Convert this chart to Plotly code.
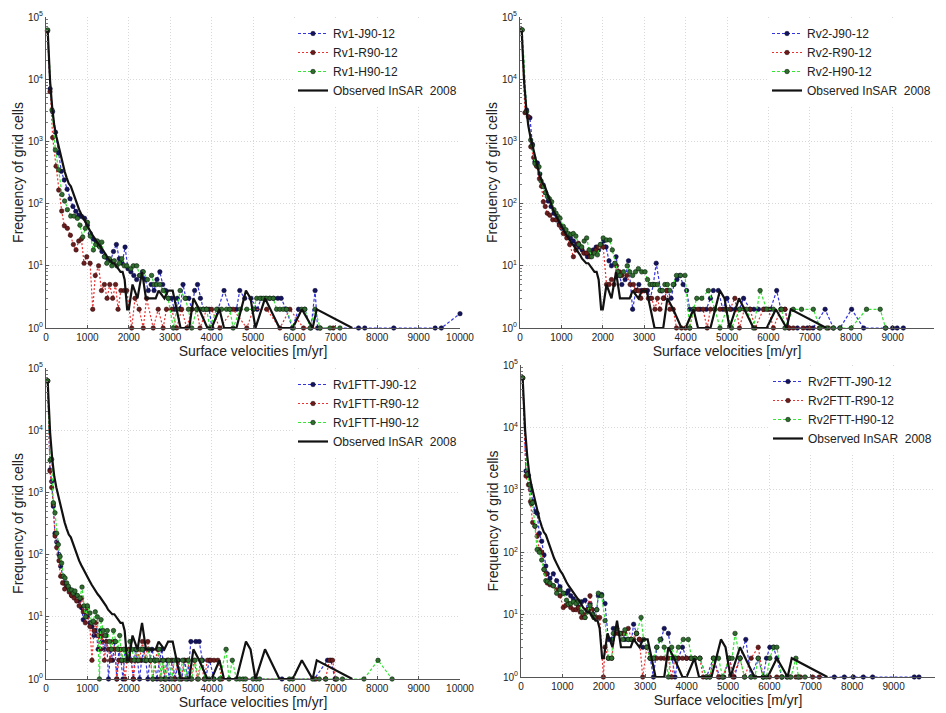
import plotly.graph_objects as go

# ---------------- data (velocity bin [m/yr], frequency of grid cells) ----------------
X_TICKS = [0, 1000, 2000, 3000, 4000, 5000, 6000, 7000, 8000, 9000, 10000]
X_TICK_TEXT = ["0", "1000", "2000", "3000", "4000", "5000", "6000", "7000", "8000", "9000", "10000"]
Y_TICKS = [1, 10, 100, 1000, 10000, 100000]
Y_TICK_TEXT = ["10<sup>0</sup>", "10<sup>1</sup>", "10<sup>2</sup>", "10<sup>3</sup>", "10<sup>4</sup>", "10<sup>5</sup>"]
Y_MINOR = [m * d for d in [1, 10, 100, 1000, 10000] for m in range(2, 10)]

OBS_NAME = "Observed InSAR\u00a0 2008"
obs_v = [40, 100, 150, 200, 250, 300, 350, 400, 450, 500, 550, 600, 650, 700, 750, 800, 850, 900, 950, 1000,
         1050, 1100, 1150, 1200, 1250, 1300, 1350, 1400, 1450, 1500, 1550, 1600, 1650, 1700, 1750, 1800, 1850,
         1900, 1960, 2000, 2090, 2210, 2320, 2415, 2500, 2650, 2720, 2860, 2950, 3060, 3250, 3460, 3560, 3700,
         3900, 4000, 4190, 4300, 4600, 4830, 4940, 5060, 5290, 5640, 5960, 6180, 6440, 6540, 7400]
obs_f = [62000, 9000, 3500, 1800, 1200, 850, 600, 450, 330, 260, 210, 190, 150, 120, 95, 80, 68, 58, 50, 45,
         38, 33, 29, 26, 23, 21, 19, 17, 15, 13, 12, 11, 11, 10, 9, 8, 8,
         6, 2, 2, 5, 3, 8, 3, 3, 3, 4, 3, 4, 4, 1, 1, 3, 2,
         1, 1, 2, 1, 1, 4, 3, 1, 3, 1, 1, 2, 1, 2, 1]

# Panel 1: Rv1
rv1_names = ["Rv1-J90-12", "Rv1-R90-12", "Rv1-H90-12"]
rv1_j = [(40,60000),(100,7000),(160,3000),(230,1400),(300,650),(370,330),(440,240),(510,170),(580,120),(650,90),
         (720,75),(790,65),(860,62),(930,58),(1000,45),(1070,33),(1140,27),(1210,25),(1280,21),(1350,17),(1420,14),
         (1490,13),(1560,12),(1630,17),(1700,22),(1770,13),(1840,11),(1910,20),(1980,9),(2050,8),(2120,7),(2190,6),
         (2260,7),(2330,8),(2400,6),(2470,4),(2540,5),(2610,4),(2680,6),(2750,8),(2820,5),(2890,4),(2960,3),(3030,3),
         (3100,2),(3170,3),(3240,2),(3310,5),(3380,3),(3450,3),(3520,2),(3590,4),(3660,5),(3730,3),(3800,2),(3870,2),
         (3940,2),(4010,1),(4150,2),(4300,4),(4450,2),(4600,2),(4680,4),(4800,3),(4950,3),(5100,2),(5200,3),(5300,3),
         (5400,3),(5500,3),(5600,3),(5680,3),(5800,2),(5950,1),(6100,2),(6250,2),(6400,1),(6500,4),(6560,1),(7550,1),
         (7700,1),(8400,1),(9400,1),(9550,1),(10000,1.7)]
rv1_r = [(32,60000),(97,6300),(161,1150),(242,400),(306,165),(379,76),(443,44),(516,40),(589,31),(661,22),(726,18),
         (790,25),(855,27),(919,11),(984,14),(1065,11),(1129,2),(1190,7),(1270,10),(1340,4),(1410,5),(1475,3),(1540,5),
         (1610,3),(1680,5),(1740,2),(1810,4),(1890,4),(1950,4),(2070,1),(2150,3),(2250,2),(2350,1),(2430,3),(2590,1),
         (2710,2),(2830,1),(2910,2),(3035,2),(3156,1),(3277,2),(3400,1),(3520,2),(3640,2),(3720,1),(3880,2),(4000,2),
         (4200,1),(4520,2),(4850,1),(5010,2),(5330,2),(5650,1),(5890,2),(6220,1),(6620,1),(6940,1)]
rv1_h = [(40,62000),(145,3200),(226,730),(306,350),(387,140),(450,110),(516,80),(597,63),(677,63),(758,58),(820,45),
         (887,29),(950,40),(1000,50),(1070,30),(1145,18),(1200,22),(1242,25),(1300,20),(1347,24),(1410,14),(1468,11),
         (1530,13),(1590,10),(1650,12),(1710,10),(1770,11),(1830,13),(1890,10),(1950,10),(2050,9),(2110,10),(2190,10),
         (2270,7),(2350,8),(2450,6),(2550,7),(2610,5),(2670,5),(2750,5),(2830,4),(2950,3),(3075,1),(3160,2),(3240,4),
         (3360,3),(3440,2),(3520,1),(3640,2),(3720,2),(3800,2),(3880,2),(3960,1),(4120,2),(4240,2),(4360,2),(4440,2),
         (4520,1),(4690,2),(4850,2),(5010,2),(5090,3),(5170,3),(5250,3),(5330,3),(5410,3),(5490,3),(5570,2),(5650,2),
         (5730,2),(5810,2),(5975,1),(6175,2),(6250,2),(6380,1),(6500,2),(6620,1),(6860,1),(7100,1)]

# Panel 2: Rv2
rv2_names = ["Rv2-J90-12", "Rv2-R90-12", "Rv2-H90-12"]
rv2_j = [(40,62000),(160,3200),(240,2400),(300,900),(360,470),(420,450),(480,300),(560,200),(620,150),(680,110),
         (750,90),(820,70),(880,55),(950,48),(1010,40),(1080,34),(1150,30),(1220,28),(1290,25),(1360,22),(1430,20),
         (1500,18),(1560,16),(1630,14),(1700,15),(1770,18),(1840,20),(1900,18),(1960,22),(2020,25),(2080,20),(2150,12),
         (2210,10),(2320,14),(2400,7),(2460,5),(2540,6),(2620,12),(2720,2),(2800,4),(2870,5),(2940,4),(3010,4),(3080,4),
         (3150,3),(3220,5),(3290,11),(3400,4),(3480,3),(3560,4),(3650,3),(3720,5),(3790,6),(3860,7),(3940,5),(4025,4),
         (4100,2),(4220,2),(4350,2),(4500,2),(4600,3),(4670,4),(4790,4),(4900,2),(5000,3),(5100,2),(5200,2),(5300,2),
         (5400,3),(5560,2),(5650,2),(5760,2),(5900,2),(6050,2),(6200,4),(6300,2),(6400,2),(6500,1),(6700,1),(6940,1),
         (7080,1),(7370,2),(7570,1),(7730,1),(8010,2),(8300,1),(8830,1),(9000,1),(9110,1),(9260,1)]
rv2_r = [(40,62000),(120,2900),(200,2500),(260,820),(330,550),(400,400),(470,250),(520,190),(564,107),(610,90),
         (660,70),(720,65),(790,55),(870,55),(950,45),(1047,33),(1130,28),(1200,22),(1290,14),(1350,18),(1410,23),
         (1480,20),(1540,16),(1610,16),(1690,14),(1770,16),(1840,18),(1890,20),(2010,20),(2090,5),(2150,5),(2210,6),
         (2270,5),(2330,10),(2400,8),(2460,7),(2580,7),(2660,5),(2740,5),(2800,4),(2860,4),(2920,3),(2980,4),(3040,4),
         (3100,3),(3180,3),(3260,2),(3320,3),(3380,2),(3460,3),(3540,4),(3620,2),(3700,2),(3780,1),(3900,1),(4000,1),
         (4100,1),(4190,2),(4300,2),(4420,2),(4520,1),(4600,2),(4700,2),(4830,2),(4950,2),(5070,2),(5190,3),(5300,1),
         (5420,2),(5560,2),(5680,1),(5880,2),(6000,2),(6120,1),(6300,2),(6400,2),(6500,1),(6600,1),(6840,1),(7000,1),
         (7230,1),(7450,1)]
rv2_h = [(56,62000),(160,3000),(258,1050),(300,850),(362,440),(420,400),(459,390),(510,230),(564,188),(610,150),
         (660,130),(710,120),(765,107),(820,80),(870,70),(920,62),(966,58),(1047,43),(1110,38),(1167,33),(1230,32),
         (1288,33),(1350,30),(1420,22),(1490,20),(1550,25),(1610,28),(1670,18),(1730,14),(1800,16),(1870,15),(1940,22),
         (2010,28),(2090,26),(2170,26),(2230,18),(2295,11),(2360,8),(2415,7),(2500,8),(2590,10),(2650,8),(2720,7),
         (2790,8),(2860,9),(2940,8),(3020,8),(3080,6),(3140,5),(3200,5),(3260,5),(3320,5),(3380,4),(3440,4),(3500,5),
         (3560,5),(3620,4),(3700,5),(3780,7),(3880,7),(3985,7),(4100,1),(4190,2),(4270,3),(4390,3),(4550,4),(4710,2),
         (4830,1),(4990,2),(5110,1),(5310,2),(5475,2),(5640,1),(5800,4),(5960,2),(6120,2),(6320,2),(6400,1),(6600,2),
         (6800,2),(7085,2),(7250,1),(7410,1),(7570,1),(7730,1),(8000,1),(8370,2),(8700,2),(8830,1)]

# Panel 3: Rv1FTT
rv1ftt_names = ["Rv1FTT-J90-12", "Rv1FTT-R90-12", "Rv1FTT-H90-12"]
rv1ftt_j = [(40,62000),(97,2300),(137,1500),(177,600),(217,220),(258,160),(314,100),(354,65),(400,45),(450,35),
            (500,30),(560,28),(620,22),(680,25),(740,22),(800,18),(860,14),(900,9),(950,12),(1000,10),(1060,8),
            (1110,7),(1160,5),(1210,6),(1260,3),(1310,6),(1360,4),(1410,3),(1460,5),(1510,1),(1560,3),(1610,2),
            (1660,4),(1710,1),(1760,3),(1810,2),(1860,1),(1910,3),(1960,2),(2010,3),(2060,2),(2110,1),(2160,3),
            (2210,2),(2260,1),(2310,2),(2360,3),(2410,2),(2460,1),(2510,2),(2560,3),(2620,2),(2680,1),(2740,2),
            (2800,3),(2860,1),(2920,2),(2980,1),(3050,2),(3120,1),(3200,2),(3280,1),(3350,2),(3420,1),(3500,4),
            (3620,4),(3700,4),(3780,2),(3850,1),(3950,2),(4060,1),(4200,1),(5700,1),(6480,1),(6800,2),(6880,2),(6980,1)]
rv1ftt_r = [(40,62000),(97,2200),(137,1200),(177,650),(217,200),(258,130),(314,80),(354,45),(400,35),(450,28),
            (500,32),(560,25),(620,22),(680,20),(740,18),(800,15),(860,20),(900,12),(950,8),(1000,14),(1060,7),
            (1110,2),(1160,6),(1210,8),(1260,5),(1310,3),(1360,5),(1410,2),(1460,4),(1510,3),(1560,2),(1610,4),
            (1660,3),(1710,1),(1760,2),(1810,3),(1860,2),(1910,1),(1960,2),(2010,3),(2060,2),(2110,1),(2160,2),
            (2210,3),(2260,2),(2330,4),(2400,2),(2460,4),(2520,2),(2580,1),(2640,2),(2700,3),(2760,1),(2820,2),
            (2880,1),(2950,2),(3020,2),(3100,1),(3180,2),(3260,1),(3340,2),(3420,2),(3500,1),(3580,2),(3660,1),
            (3740,2),(3820,1),(3900,2),(3980,2),(4060,2),(4150,2),(4250,1),(6520,1),(6750,1),(6850,2),(6920,2),(7000,1)]
rv1ftt_h = [(40,62000),(100,3300),(137,3400),(177,680),(217,470),(258,220),(298,145),(340,93),(378,73),(419,45),
            (460,42),(500,35),(540,31),(580,27),(620,27),(660,24),(700,26),(760,22),(820,20),(870,30),(920,15),
            (960,10),(1000,15),(1063,11.5),(1100,8),(1143,8.5),(1190,12),(1240,10),(1290,1),(1330,9),(1380,6),
            (1430,5),(1480,6),(1530,4),(1580,3),(1630,6),(1680,4),(1730,3),(1780,5),(1830,2),(1880,3),(1930,2),
            (1980,2),(2030,4),(2080,3),(2130,2),(2180,3),(2230,2),(2280,3),(2330,3),(2380,2),(2430,2),(2480,3),
            (2530,2),(2580,1),(2630,2),(2680,2),(2730,3),(2780,1),(2830,2),(2900,1),(2960,2),(3040,1),(3100,2),
            (3160,2),(3220,1),(3300,2),(3380,1),(3440,2),(3520,1),(3600,2),(3680,1),(3760,2),(3840,1),(3940,1),
            (4050,1),(4200,1),(4350,3),(4420,1),(4500,2),(4600,1),(4680,1),(4760,1),(4820,1),(5000,1),(5080,1),
            (5160,1),(5880,1),(5960,1),(6440,1),(6600,1),(6760,1),(7020,1),(7160,1),(7680,1),(8020,2),(8360,1)]

# Panel 4: Rv2FTT
rv2ftt_names = ["Rv2FTT-J90-12", "Rv2FTT-R90-12", "Rv2FTT-H90-12"]
rv2ftt_j = [(40,62000),(120,2000),(180,1700),(230,1000),(282,650),(338,450),(390,420),(443,200),(500,150),(556,90),
            (600,60),(636,45),(700,38),(781,45),(861,35),(942,28),(1022,22),(1100,22),(1143,24),(1200,20),(1264,18),
            (1330,16),(1385,14),(1465,16),(1546,17),(1610,12),(1667,15),(1720,12),(1763,10),(1830,12),(1868,20),
            (1948,21),(2030,15),(2110,4),(2190,4),(2230,6),(2310,6),(2390,5),(2460,5),(2510,4),(2590,4),(2670,4),
            (2720,7),(2790,5),(2860,4),(2940,3),(3040,3),(3120,2),(3200,1),(3280,3),(3380,4),(3460,6),(3560,5),
            (3650,2),(3720,1),(3800,2),(3900,3),(4000,2),(4100,2),(4200,2),(4320,2),(4480,1),(4650,2),(4800,1),
            (4900,1),(5030,2),(5150,1),(5290,2),(5430,4),(5550,1),(5730,2),(5850,1),(5930,2),(6010,3),(6100,3),
            (6180,2),(6300,1),(6420,1),(6700,1),(7568,1),(7810,1),(8027,1),(8269,1),(8494,1),(9500,1),(9613,1)]
rv2ftt_r = [(40,62000),(120,1660),(180,1200),(230,650),(282,300),(338,260),(390,180),(443,110),(500,100),(556,53),
            (600,45),(636,32),(700,30),(781,29),(861,25),(942,20),(1022,13),(1080,14),(1143,15),(1200,13),(1264,12),
            (1330,12),(1385,13),(1430,11),(1465,9),(1510,10),(1546,9),(1600,12),(1667,20),(1720,12),(1763,9),
            (1830,9),(1900,9),(1990,1),(2030,3),(2110,2),(2190,2),(2270,5),(2350,5),(2430,5),(2510,5),(2590,6),
            (2670,4),(2720,4),(2790,5),(2860,4),(2940,1),(3040,3),(3120,2),(3200,2),(3280,2),(3380,2),(3460,2),
            (3560,2),(3640,1),(3720,2),(3800,2),(3900,2),(4000,2),(4100,2),(4200,2),(4320,2),(4400,1),(4560,1),
            (4650,2),(4770,1),(4870,1),(5030,2),(5120,1),(5290,2),(5400,1),(5560,2),(5730,3),(5850,1),(6000,1),
            (6180,1),(6300,1),(6500,1),(6640,1),(6750,1),(7045,1),(7206,1)]
rv2ftt_h = [(40,62000),(153,1780),(210,1200),(250,600),(282,620),(338,262),(390,110),(443,100),(500,75),(556,53),
            (600,35),(636,34),(700,32),(781,29),(861,22),(942,25),(1022,22),(1100,17),(1143,14.6),(1200,15),
            (1264,16),(1330,15),(1385,16.5),(1465,11),(1546,9),(1600,11),(1667,14),(1720,10),(1763,9),(1830,12),
            (1868,22),(1948,20),(2030,8),(2110,2),(2190,2),(2230,5),(2310,6),(2390,5),(2460,4),(2510,5.7),(2590,4),
            (2670,4),(2790,5),(2900,9),(2960,4),(3040,3),(3120,2),(3200,2),(3280,3),(3360,4),(3460,3),(3560,1),
            (3640,3),(3720,2),(3800,3),(3920,4),(4040,4),(4120,2),(4200,2),(4320,2),(4480,1),(4560,1),(4650,2),
            (4770,2),(4870,1),(5030,2),(5100,2),(5170,5),(5290,2),(5400,1),(5560,1),(5650,1),(5730,2),(5850,1),
            (5930,1),(6010,2),(6100,3),(6180,3),(6300,1),(6440,1),(6520,1),(6640,2),(6700,1),(6860,1)]

# ---------------- styling ----------------
W, H = 946, 713
SERIES_STYLE = [
    dict(line=dict(color="#3535e0", width=1.2, dash="3px,2px"),
         marker=dict(color="#14145e", size=4.5, line=dict(color="#05052a", width=0.5))),
    dict(line=dict(color="#e83232", width=1.2, dash="2px,2px"),
         marker=dict(color="#6a1d1d", size=4.5, line=dict(color="#2a0505", width=0.5))),
    dict(line=dict(color="#35e635", width=1.2, dash="3px,2px"),
         marker=dict(color="#2f6e2f", size=4.5, line=dict(color="#0a1f0a", width=0.6))),
]
FONT = "Liberation Sans, Arial, sans-serif"
GRID = dict(showgrid=True, gridcolor="#d9d9d9", griddash="1px,2px", gridwidth=1)

# pixel boxes of the four plot areas (left, right, top, bottom)
BOXES = [(46, 460, 17, 328), (520, 934, 17, 328), (46, 460, 368, 679), (521, 935, 365, 677)]

PANELS = [
    (rv1_names, [rv1_j, rv1_r, rv1_h]),
    (rv2_names, [rv2_j, rv2_r, rv2_h]),
    (rv1ftt_names, [rv1ftt_j, rv1ftt_r, rv1ftt_h]),
    (rv2ftt_names, [rv2ftt_j, rv2ftt_r, rv2ftt_h]),
]

fig = go.Figure()
layout = dict(
    width=W, height=H, autosize=False,
    margin=dict(l=0, r=0, t=0, b=0),
    paper_bgcolor="white", plot_bgcolor="white",
    font=dict(family=FONT, color="#222222"),
    showlegend=True,
)

for i, ((names, series), box) in enumerate(zip(PANELS, BOXES)):
    k = "" if i == 0 else str(i + 1)
    xa, ya = "x" + k, "y" + k
    leg = "legend" + k
    for name, data, st in zip(names, series, SERIES_STYLE):
        fig.add_trace(go.Scatter(
            x=[p[0] for p in data], y=[p[1] for p in data], name=name,
            mode="lines+markers", line=st["line"], marker=st["marker"],
            cliponaxis=False, xaxis=xa, yaxis=ya, legend=leg, hoverinfo="skip"))
    fig.add_trace(go.Scatter(
        x=obs_v, y=obs_f, name=OBS_NAME, mode="lines",
        line=dict(color="#111111", width=2.2), xaxis=xa, yaxis=ya, legend=leg, hoverinfo="skip"))

    l, r, t, b = box
    layout["xaxis" + k] = dict(
        domain=[l / W, r / W], anchor=ya, range=[0, 10000],
        tickmode="array", tickvals=X_TICKS, ticktext=X_TICK_TEXT, **GRID,
        ticks="inside", ticklen=3, tickcolor="#555555",
        showline=True, linecolor="#555555", linewidth=1, zeroline=False,
        tickfont=dict(size=10, color="#222222"),
        title=dict(text="Surface velocities [m/yr]", font=dict(size=14, color="#222222"), standoff=1),
        automargin=False, fixedrange=True)
    layout["yaxis" + k] = dict(
        domain=[1 - b / H, 1 - t / H], anchor=xa, type="log", range=[0, 5],
        tickmode="array", tickvals=Y_TICKS, ticktext=Y_TICK_TEXT, **GRID,
        ticks="inside", ticklen=3, tickcolor="#555555",
        minor=dict(tickmode="array", tickvals=Y_MINOR, ticks="inside", ticklen=2,
                   tickcolor="#777777", showgrid=False),
        showline=True, linecolor="#555555", linewidth=1, zeroline=False,
        tickfont=dict(size=10, color="#222222"),
        title=dict(text="Frequency of grid cells", font=dict(size=14, color="#222222"), standoff=1),
        automargin=False, fixedrange=True)
    layout[leg] = dict(
        x=(r + 2) / W, xanchor="right", y=1 - (t + 2) / H, yanchor="top",
        bgcolor="white", borderwidth=0, font=dict(size=12, color="#222222"),
        tracegroupgap=0, itemwidth=30)

fig.update_layout(**layout)

fig.write_html("out.html", include_plotlyjs=True, config={"displayModeBar": False},
               post_script="document.body.style.margin='0';document.body.style.overflow='hidden';")
